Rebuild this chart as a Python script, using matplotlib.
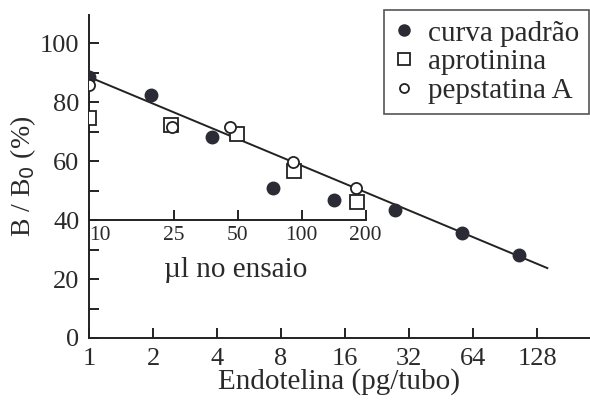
import matplotlib
matplotlib.use('Agg')
import matplotlib.pyplot as plt
import numpy as np
from matplotlib.lines import Line2D
from matplotlib.ticker import FixedLocator, NullLocator, FixedFormatter

# Curva padrão: endotelina (pg/tubo) x B/B0 (%)
padrao_x = [1, 1.96, 3.8, 7.3, 14.2, 27.5, 56.8, 105]
padrao_y = [88.5, 82.4, 68.3, 50.8, 46.8, 43.4, 35.6, 28.1]

# Amostras: volume (µl no ensaio) x B/B0 (%)
aprot_ul = [10, 24.3, 49.7, 92, 182]
aprot_y = [74.5, 72.3, 69.2, 56.5, 46.1]
pepst_ul = [10, 24.5, 46, 91, 180]
pepst_y = [85.6, 71.6, 71.6, 59.5, 50.8]

# Reta de regressão (extremos)
reta_x = [1, 143]
reta_y = [88.5, 23.7]

x_ticks = [1, 2, 4, 8, 16, 32, 64, 128]
ul_ticks = [10, 25, 50, 100, 200]
y_ticks = list(range(0, 101, 10))
y_labels = ['0', '', '20', '', '40', '', '60', '', '80', '', '100']

plt.rcParams['font.family'] = ['Liberation Serif', 'DejaVu Serif']
cor_txt = '#2a2a2a'
cor_pt = '#2b2b36'

fig = plt.figure(figsize=(5.9, 4.01), dpi=100)
ax = fig.add_axes([89 / 590, 63 / 401, 501 / 590, 323 / 401])

ax.plot(reta_x, reta_y, color='#222222', lw=1.4, zorder=2)
ax.plot(padrao_x, padrao_y, 'o', color=cor_pt, ms=9, zorder=3, label='curva padrão')
ax.plot([v / 10 for v in aprot_ul], aprot_y, 's', mfc='white', mec='#222222', mew=1.3,
        ms=9.5, zorder=3, label='aprotinina')
ax.plot([v / 10 for v in pepst_ul], pepst_y, 'o', mfc='white', mec='#222222', mew=1.3,
        ms=8, zorder=4, label='pepstatina A')

xmax = 227
ax.set_xscale('log', base=2)
ax.set_xlim(1, xmax)
ax.set_ylim(0, 109.5)
ax.xaxis.set_major_locator(FixedLocator(x_ticks))
ax.xaxis.set_major_formatter(FixedFormatter([str(t) for t in x_ticks]))
ax.xaxis.set_minor_locator(NullLocator())
ax.yaxis.set_major_locator(FixedLocator(y_ticks))
ax.yaxis.set_major_formatter(FixedFormatter(y_labels))

for s in ['top', 'right']:
    ax.spines[s].set_visible(False)
for s in ['left', 'bottom']:
    ax.spines[s].set_linewidth(1.4)
    ax.spines[s].set_color('#222222')
ax.tick_params(direction='in', length=7, width=1.4, color='#222222',
               labelsize=19, labelcolor=cor_txt, pad=7)

ax.set_xlabel('Endotelina (pg/tubo)', fontsize=21, color=cor_txt, labelpad=-1)
ax.set_ylabel('B / B$_0$ (%)', fontsize=20, color=cor_txt, labelpad=1)

# eixo interno: µl no ensaio
sec = ax.secondary_xaxis(40, functions=(lambda x: x * 10, lambda x: x / 10),
                         transform=ax.transData)
sec.set_alignment('bottom')
sec.spines['top'].set_visible(False)
sec.spines['bottom'].set_visible(True)
sec.spines['bottom'].set_bounds(ul_ticks[0], ul_ticks[-1])
sec.spines['bottom'].set_linewidth(1.4)
sec.spines['bottom'].set_color('#222222')
sec.xaxis.set_major_locator(FixedLocator(ul_ticks))
sec.xaxis.set_major_formatter(FixedFormatter([str(t) for t in ul_ticks]))
sec.xaxis.set_minor_locator(NullLocator())
sec.tick_params(direction='in', length=7, width=1.4, color='#222222',
                labelsize=15.5, labelcolor=cor_txt, pad=4)
sec.set_xlabel('µl no ensaio', fontsize=21, color=cor_txt, labelpad=9)
# rótulo centrado sob o eixo interno, um pouco à direita
meio = np.log2(np.sqrt(ul_ticks[0] * ul_ticks[-1]) / 10) / np.log2(xmax)
sec.xaxis.label.set_x(meio + 0.017)
# o "10" fica à direita do eixo y
fig.canvas.draw()
sec.xaxis.get_major_ticks()[0].label1.set_horizontalalignment('left')

handles = [
    Line2D([], [], ls='none', marker='o', color=cor_pt, ms=8),
    Line2D([], [], ls='none', marker='s', mfc='white', mec='#222222', mew=1.3, ms=9),
    Line2D([], [], ls='none', marker='o', mfc='white', mec='#222222', mew=1.3, ms=6.5),
]
leg = ax.legend(handles, ['curva padrão', 'aprotinina', 'pepstatina A'],
                loc='upper right', bbox_to_anchor=(589 / 590, 1 - 10 / 401),
                bbox_transform=fig.transFigure, borderaxespad=0, fontsize=21,
                fancybox=False, framealpha=1, edgecolor='#555555',
                handlelength=0.7, handletextpad=0.45, labelspacing=0.08,
                borderpad=0.35)
leg.get_frame().set_linewidth(1.2)
for t in leg.get_texts():
    t.set_color(cor_txt)

fig.savefig('out.png', dpi=100)
plt.close(fig)
